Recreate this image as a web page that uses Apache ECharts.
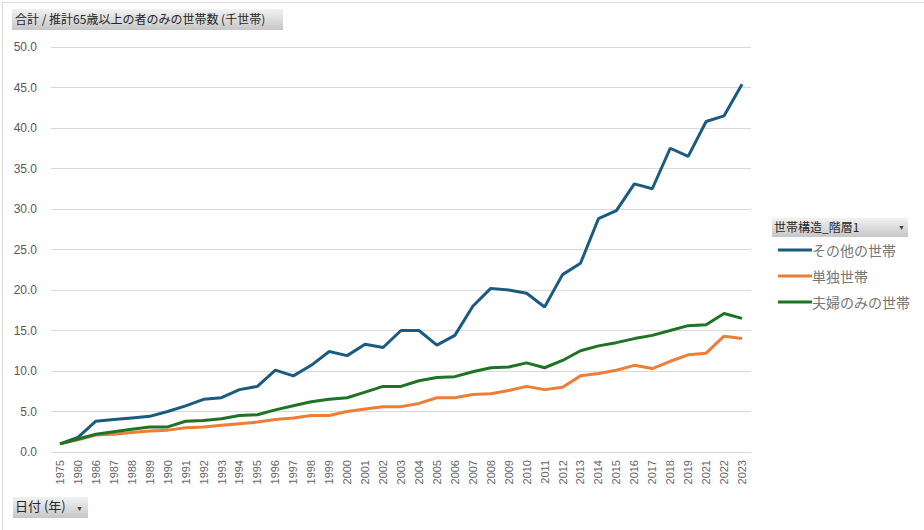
<!DOCTYPE html>
<html>
<head>
<meta charset="utf-8">
<script src="https://cdn.jsdelivr.net/npm/echarts@6/dist/echarts.min.js"></script>
<style>
html,body{margin:0;padding:0;background:#fff;}
#c{width:924px;height:530px;}
</style>
</head>
<body>
<div id="c"></div>
<script>
const categories = ['1975','1980','1986','1987','1988','1989','1990','1991','1992','1993','1994','1995','1996','1997','1998','1999','2000','2001','2002','2003','2004','2005','2006','2007','2008','2009','2010','2011','2012','2013','2014','2015','2016','2017','2018','2019','2021','2022','2023'];
const sonota = [1.0,1.8,3.8,4.0,4.2,4.4,5.0,5.7,6.5,6.7,7.7,8.1,10.1,9.4,10.7,12.4,11.9,13.3,12.9,15.0,15.0,13.2,14.4,18.0,20.2,20.0,19.6,17.9,21.9,23.3,28.8,29.8,33.1,32.5,37.5,36.5,40.8,41.5,45.4];
const tandoku = [1.0,1.5,2.1,2.2,2.4,2.6,2.7,3.0,3.1,3.3,3.5,3.7,4.0,4.2,4.5,4.5,5.0,5.3,5.6,5.6,6.0,6.7,6.7,7.1,7.2,7.6,8.1,7.7,8.0,9.4,9.7,10.1,10.7,10.3,11.2,12.0,12.2,14.3,14.0];
const fuufu = [1.0,1.6,2.2,2.5,2.8,3.1,3.1,3.8,3.9,4.1,4.5,4.6,5.2,5.7,6.2,6.5,6.7,7.4,8.1,8.1,8.8,9.2,9.3,9.9,10.4,10.5,11.0,10.4,11.3,12.5,13.1,13.5,14.0,14.4,15.0,15.6,15.7,17.1,16.5];
const seriesNames = ['その他の世帯','単独世帯','夫婦のみの世帯'];
const colors = ['#1b5b80','#ee7d35','#1e7324'];
const yTicks = {min:0, max:50, interval:5};

const jp = '"Noto Sans CJK JP", "Liberation Sans", sans-serif';
const num = '"Liberation Sans", Arial, sans-serif';
const btnFill = new echarts.graphic.LinearGradient(0,0,0,1,[{offset:0,color:'#f2f2f2'},{offset:1,color:'#c6c6c6'}]);

const chart = echarts.init(document.getElementById('c'), null, {renderer:'svg'});
chart.setOption({
  animation:false,
  color: colors,
  grid:{left:51, right:173, top:47, bottom:78, containLabel:false},
  legend:{
    orient:'vertical', left:773, top:238,
    data: seriesNames,
    icon:'rect', itemWidth:34, itemHeight:3, itemGap:12,
    textStyle:{fontFamily:jp, fontSize:14, color:'#767676', padding:[0,0,0,-5]}
  },
  xAxis:{
    type:'category', data:categories, boundaryGap:true,
    axisLine:{lineStyle:{color:'#d9d9d9'}},
    axisTick:{show:false},
    axisLabel:{rotate:90, interval:0, color:'#666666', fontFamily:num, fontSize:11, margin:8}
  },
  yAxis:{
    type:'value', min:yTicks.min, max:yTicks.max, interval:yTicks.interval,
    axisLine:{show:false}, axisTick:{show:false},
    splitLine:{lineStyle:{color:'#d9d9d9', width:1}},
    axisLabel:{color:'#595959', fontFamily:num, fontSize:12, margin:14, formatter:v=>v.toFixed(1)}
  },
  series:[
    {name:seriesNames[0], type:'line', data:sonota, symbol:'none', lineStyle:{width:3}},
    {name:seriesNames[1], type:'line', data:tandoku, symbol:'none', lineStyle:{width:3}},
    {name:seriesNames[2], type:'line', data:fuufu, symbol:'none', lineStyle:{width:3}}
  ],
  graphic:[
    {type:'rect', left:0, top:0, shape:{width:923, height:529}, style:{fill:'none', stroke:'#d9d9d9', lineWidth:1}, silent:true},
    {type:'rect', left:12, top:9, shape:{width:271, height:21}, style:{fill:btnFill}},
    {type:'text', left:15, top:12, style:{text:'合計 / 推計65歳以上の者のみの世帯数 (千世帯)', fill:'#262626', font:'12px '+jp}},
    {type:'rect', left:772, top:218, shape:{width:136, height:19}, style:{fill:btnFill}},
    {type:'text', left:774, top:220, style:{text:'世帯構造_階層1', fill:'#262626', font:'12px '+jp}},
    {type:'text', left:898, top:224, style:{text:'▼', fill:'#404040', font:'7px '+num}},
    {type:'rect', left:13, top:497, shape:{width:75, height:21}, style:{fill:btnFill}},
    {type:'text', left:15, top:499, style:{text:'日付 (年)', fill:'#262626', font:'13px '+jp}},
    {type:'text', left:76, top:505, style:{text:'▼', fill:'#404040', font:'7px '+num}}
  ]
});
</script>
</body>
</html>
